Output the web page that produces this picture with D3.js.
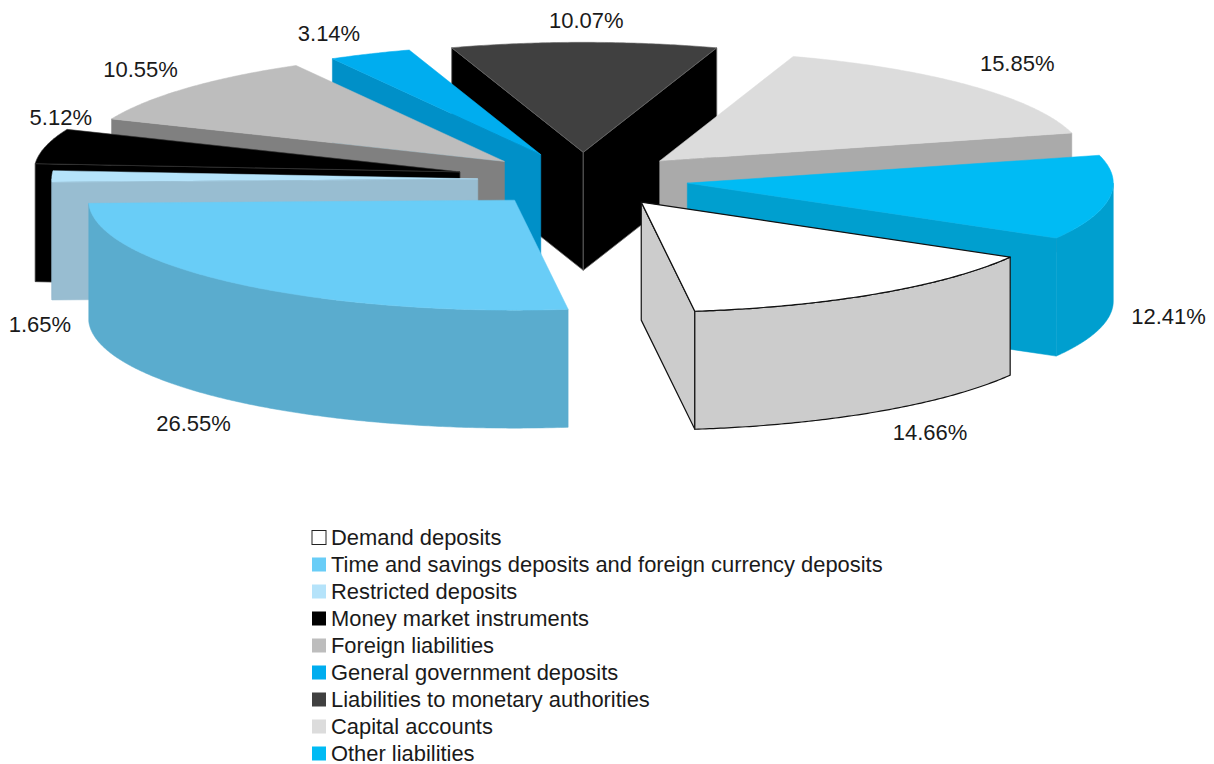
<!DOCTYPE html>
<html><head><meta charset="utf-8">
<script src="https://cdn.jsdelivr.net/npm/d3@7"></script>
<style>html,body{margin:0;padding:0;background:#fff}svg{display:block}text{font-family:"Liberation Sans",sans-serif;fill:#1a1a1a}</style>
</head><body><svg id="c" width="1214" height="764"></svg>
<script>
const categories = ["Demand deposits","Time and savings deposits and foreign currency deposits","Restricted deposits","Money market instruments","Foreign liabilities","General government deposits","Liabilities to monetary authorities","Capital accounts","Other liabilities"];
const shares = [14.66,26.55,1.65,5.12,10.55,3.14,10.07,15.85,12.41];
const topColors = ["#ffffff","#69cdf7","#b5e3fa","#000000","#bdbdbd","#00adef","#404040","#dcdcdc","#00bbf4"];
const sideColors = ["#cccccc","#5aacce","#98bdd1","#000000","#808080","#0090c8","#000000","#aaaaaa","#009fcf"];
const edgeColors = ["#111111",null,null,"#3a3a3a",null,null,"#666666",null,null];
const explode = [.247,.247,.247,.297,.247,.247,.247,.247,.247];
const paintOrder = [6,7,8,5,4,3,2,0,1];
const labelNudge = [[53,140],[-44,141],[-12,150],[15,-27],[-46,-17],[-41,-19],[2,-20],[47,-20],[59,120]];

const width=1214, height=764, depth=118;
const x = d3.scaleLinear().domain([-1,1]).range([583-426,583+426]);
const y = d3.scaleLinear().domain([-1,1]).range([179.5-110,179.5+110]);
const deg = Math.PI/180;
const pie = d3.pie().sort(null).startAngle(120*deg).endAngle(480*deg);
const arcs = pie(shares);
const svg = d3.select("#c");
const line = d3.line();

const proj = (d,i,r,a,z=0)=>{
  const m=(d.startAngle+d.endAngle)/2, e=explode[i];
  return [x(e*Math.sin(m)+r*Math.sin(a)), y(-e*Math.cos(m)-r*Math.cos(a))+z];
};
const arcAngles=(a0,a1)=>{
  const n=Math.max(2,Math.ceil((a1-a0)/(0.5*deg)));
  return d3.range(n+1).map(k=>a0+(a1-a0)*k/n);
};
const g = svg.append("g").attr("class","pie");
paintOrder.forEach(i=>{
  const d=arcs[i], a0=d.startAngle, a1=d.endAngle;
  const sg=g.append("g");
  const edge=edgeColors[i];
  const face=pts=>sg.append("path").attr("d",line(pts)+"Z").attr("fill",sideColors[i])
     .attr("stroke",edge||sideColors[i]).attr("stroke-width",edge?(i===0?1.2:0.8):0.5).attr("stroke-linejoin","round");
  const apex=proj(d,i,0,0), wall=a=>{
    const p=proj(d,i,1,a);
    face([apex,p,[p[0],p[1]+depth],[apex[0],apex[1]+depth]]);
  };
  if(Math.sin(a0)<0) wall(a0);
  if(Math.sin(a1)>0) wall(a1);
  // outer rim, only the part turned towards the viewer (90 to 270 degrees)
  [0,360].forEach(turn=>{
    const lo=Math.max(a0,(90+turn)*deg), hi=Math.min(a1,(270+turn)*deg);
    if(hi>lo){
      const top=arcAngles(lo,hi).map(a=>proj(d,i,1,a));
      const bot=top.map(p=>[p[0],p[1]+depth]).reverse();
      face(top.concat(bot));
    }
  });
  const rim=arcAngles(a0,a1).map(a=>proj(d,i,1,a));
  sg.append("path").attr("d",line([apex].concat(rim))+"Z").attr("fill",topColors[i])
    .attr("stroke",edge||topColors[i]).attr("stroke-width",edge?(i===0?1.2:0.6):0.5).attr("stroke-linejoin","round");
});

// percentage labels
svg.append("g").selectAll("text").data(arcs).join("text")
  .attr("text-anchor","middle").attr("dominant-baseline","middle").attr("font-size",22)
  .attr("x",(d,i)=>proj(d,i,1,(d.startAngle+d.endAngle)/2)[0]+labelNudge[i][0])
  .attr("y",(d,i)=>proj(d,i,1,(d.startAngle+d.endAngle)/2)[1]+labelNudge[i][1])
  .text(d=>d.data.toFixed(2)+"%");

// legend
const ly=d3.scalePoint().domain(categories).range([538,754]);
const lg=svg.append("g").selectAll("g").data(categories).join("g")
  .attr("transform",d=>`translate(312,${ly(d)})`);
lg.append("rect").attr("y",-7.5).attr("width",14).attr("height",14)
  .attr("fill",(d,i)=>topColors[i]).attr("stroke",(d,i)=>i?"none":"#222").attr("stroke-width",1);
lg.append("text").attr("x",19).attr("y",1).attr("dominant-baseline","middle").attr("font-size",21.9).text(d=>d);
</script></body></html>
